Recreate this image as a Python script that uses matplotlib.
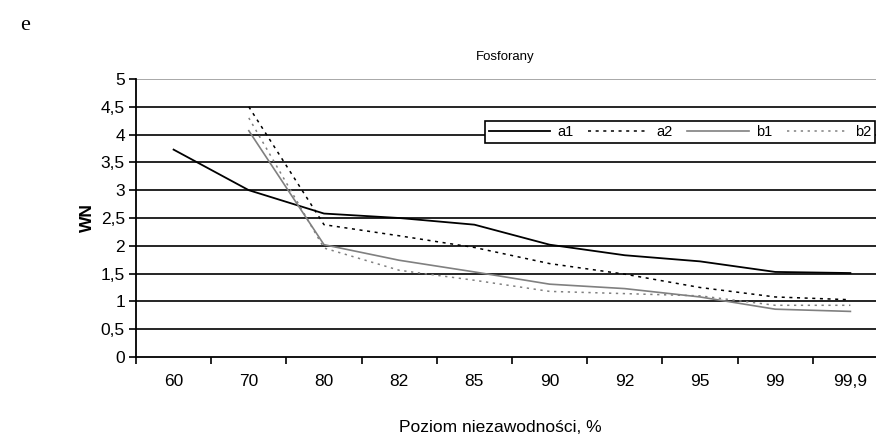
import numpy as np
import matplotlib
matplotlib.use("Agg")
import matplotlib.pyplot as plt

# data
categories = ['60', '70', '80', '82', '85', '90', '92', '95', '99', '99,9']
a1 = [3.73, 3.0, 2.58, 2.5, 2.38, 2.02, 1.83, 1.72, 1.53, 1.51]
a2 = [np.nan, 4.5, 2.38, 2.18, 1.97, 1.68, 1.49, 1.25, 1.08, 1.03]
b1 = [np.nan, 4.07, 2.02, 1.74, 1.53, 1.31, 1.23, 1.08, 0.86, 0.82]
b2 = [np.nan, 4.3, 1.96, 1.56, 1.38, 1.18, 1.14, 1.1, 0.93, 0.93]
yticks = [0, 0.5, 1, 1.5, 2, 2.5, 3, 3.5, 4, 4.5, 5]
ytick_labels = ['0', '0,5', '1', '1,5', '2', '2,5', '3', '3,5', '4', '4,5', '5']

plt.rcParams['font.family'] = ['Liberation Sans', 'DejaVu Sans']

W, H = 876, 441
fig = plt.figure(figsize=(W / 100, H / 100), dpi=100)
ax = fig.add_axes([136 / W, 84 / H, 752 / W, 278 / H])

x = np.arange(len(categories))
ax.plot(x, a1, color='black', lw=1.3, ls='-', label='a1')
ax.plot(x, a2, color='black', lw=1.1, ls=(0, (2, 3)), label='a2')
ax.plot(x, b1, color='#808080', lw=1.2, ls='-', label='b1')
ax.plot(x, b2, color='#808080', lw=1.1, ls=(0, (1.5, 3)), label='b2')

ax.set_xlim(-0.5, len(categories) - 0.5)
ax.set_ylim(0, 5)
ax.set_yticks(yticks)
ax.set_yticklabels(ytick_labels, fontsize=12.5)
ax.set_xticks(x)
ax.set_xticklabels(categories, fontsize=12.5)
ax.set_xticks(np.arange(len(categories) + 1) - 0.5, minor=True)
ax.tick_params(axis='x', which='major', length=0, pad=12)
ax.tick_params(axis='x', which='minor', length=5, width=1.2, direction='out')
ax.tick_params(axis='y', length=5, width=1.2, direction='out', pad=3)

for yv in yticks[1:]:
    ax.axhline(yv, color='#999999' if yv == 5 else 'black', lw=1.2, zorder=0)

for s in ['top', 'right']:
    ax.spines[s].set_visible(False)
ax.spines['left'].set_linewidth(1.3)
ax.spines['bottom'].set_linewidth(1.3)

ax.set_ylabel('WN', fontsize=12.5, fontweight='bold', labelpad=4)
fig.text(500 / W, 1 - 428 / H, 'Poziom niezawodności, %', fontsize=12.5,
         ha='center', va='center')
fig.text(505 / W, 1 - 57 / H, 'Fosforany', fontsize=9.5, ha='center', va='center')
fig.text(20 / W, 1 - 25 / H, 'e', fontsize=16, family='Liberation Serif',
         ha='left', va='center')

leg = ax.legend(loc='center', bbox_to_anchor=((680 - 136) / 752, (357 - 132) / 278),
                ncol=4, frameon=True, fancybox=False, fontsize=10.5,
                handlelength=4.2, columnspacing=1.0, handletextpad=0.5,
                borderpad=0.25, edgecolor='black', framealpha=1)
leg.get_frame().set_linewidth(1.2)

fig.savefig('out.png', dpi=100)
